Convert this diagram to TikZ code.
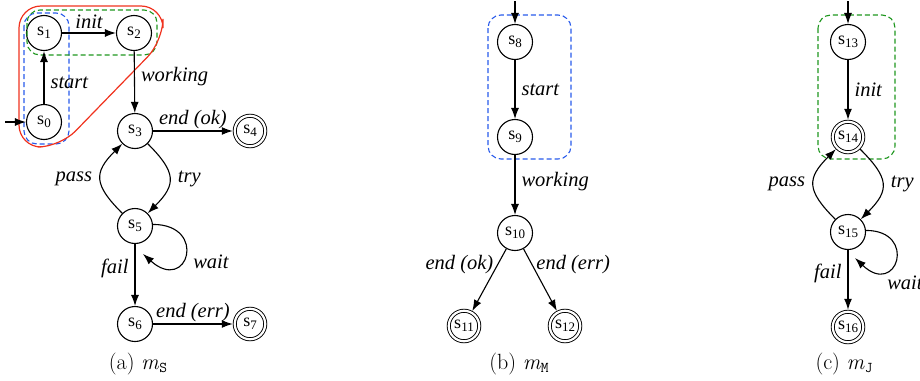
\documentclass[tikz,border=0pt]{standalone}
\usepackage{fontspec}
\newfontfamily\lab{Liberation Serif}
\usetikzlibrary{arrows.meta}
\definecolor{rboxblue}{RGB}{40,90,235}
\definecolor{rboxgreen}{RGB}{30,150,30}
\definecolor{rboxred}{RGB}{240,50,30}
\newcommand{\st}[1]{{\lab\fontsize{18}{18}\selectfont s\raisebox{-3pt}{\fontsize{13}{13}\selectfont #1}}}
\newcommand{\capm}[1]{\textit{m}\raisebox{-3pt}{\fontsize{15}{15}\selectfont\ttfamily #1}}
\begin{document}
\begin{tikzpicture}[x=1pt,y=-1pt,
  state/.style={circle, draw, line width=1.1pt, minimum size=35pt, inner sep=0pt},
  acc/.style={circle, draw, double, double distance=2.2pt, line width=0.9pt, minimum size=30.5pt, inner sep=0pt, outer sep=2pt},
  tr/.style={-{Latex[length=11pt,width=8pt]}, line width=1.1pt},
  lbl/.style={font=\lab\itshape\fontsize{20.5}{22}\selectfont, inner sep=2pt},
  captxt/.style={font=\fontsize{22}{24}\selectfont},
  dbox/.style={dashed, dash pattern=on 5pt off 3pt, line width=1.1pt, rounded corners=13pt},
  bluebox/.style={dbox, draw=rboxblue},
  greenbox/.style={dbox, draw=rboxgreen},
  redbox/.style={draw=rboxred, line width=1.2pt, rounded corners=22pt}
]
\useasboundingbox (0,0) rectangle (920,380);

% ---------------- panel (a)
\node[state] (s0) at (44,122) {\st{0}};
\node[state] (s1) at (44,33) {\st{1}};
\node[state] (s2) at (134,33) {\st{2}};
\node[state] (s3) at (135,131) {\st{3}};
\node[acc] (s4) at (250,131) {\st{4}};
\node[state] (s5) at (135,226) {\st{5}};
\node[state] (s6) at (135,324) {\st{6}};
\node[acc] (s7) at (250,324) {\st{7}};
\coordinate (i0) at (5,122);
\coordinate (w5) at ([shift={(8,28)}]s5.center);

\draw[bluebox] (24,13) rectangle (69,144);
\draw[greenbox] (27,10) rectangle (157,55);
\draw[redbox] (19,80) -- (19,6) -- (163,6) -- (163,41) -- (60,147) -- (19,147) -- cycle;

\draw[tr] (i0) -- (s0);
\draw[tr] (s0) -- node[lbl, anchor=west, pos=0.4, xshift=4pt] (la1) {start} (s1);
\draw[tr] (s1) -- node[lbl, anchor=south, yshift=2pt] (la2) {init} (s2);
\draw[tr] (s2) -- node[lbl, anchor=west, pos=0.42, xshift=4pt] (la3) {working} (s3);
\draw[tr] (s3) -- node[lbl, anchor=south] (la4) {end (ok)} (s4);
\draw[tr] (s3) to[out=-45, in=45, looseness=1.5] node[lbl, anchor=west, xshift=6pt] (la5) {try} (s5);
\draw[tr] (s5) to[out=135, in=-135, looseness=1.5] node[lbl, anchor=east, xshift=-6pt] (la6) {pass} (s3);
\draw[tr] (s5.5) .. controls +(55,0) and +(45,40) .. node[lbl, anchor=west, pos=0.62, xshift=10pt] (la7) {wait} (w5);
\draw[tr] (s5) -- node[lbl, anchor=east, pos=0.4, xshift=-4pt] (la8) {fail} (s6);
\draw[tr] (s6) -- node[lbl, anchor=south] (la9) {end (err)} (s7);

\node[captxt] (ca) at (138,364) {(a) \capm{S}};

% ---------------- panel (b)
\node[state] (s8) at (515,42) {\st{8}};
\node[state] (s9) at (515,137) {\st{9}};
\node[state] (s10) at (515,233) {\st{10}};
\node[acc] (s11) at (464,326) {\st{11}};
\node[acc] (s12) at (565,326) {\st{12}};
\coordinate (i8) at (515,1);

\draw[bluebox] (488,15) rectangle (571,159);

\draw[tr] (i8) -- (s8);
\draw[tr] (s8) -- node[lbl, anchor=west, xshift=4pt] (lb1) {start} (s9);
\draw[tr] (s9) -- node[lbl, anchor=west, xshift=4pt, pos=0.45] (lb2) {working} (s10);
\draw[tr] (s10) -- node[lbl, anchor=east, pos=0.25, xshift=-2pt] (lb3) {end (ok)} (s11);
\draw[tr] (s10) -- node[lbl, anchor=west, pos=0.25, xshift=2pt] (lb4) {end (err)} (s12);

\node[captxt] (cb) at (519,364) {(b) \capm{M}};

% ---------------- panel (c)
\node[state] (s13) at (848,42) {\st{13}};
\node[acc] (s14) at (848,137) {\st{14}};
\node[state] (s15) at (848,232) {\st{15}};
\node[acc] (s16) at (848,327) {\st{16}};
\coordinate (i13) at (848,1);
\coordinate (w15) at ([shift={(7,26)}]s15.center);

\draw[greenbox] (818,15) rectangle (895,159);

\draw[tr] (i13) -- (s13);
\draw[tr] (s13) -- node[lbl, anchor=west, xshift=4pt] (lc1) {init} (s14);
\draw[tr] (s14) to[out=-45, in=45, looseness=1.5] node[lbl, anchor=west, xshift=6pt] (lc2) {try} (s15);
\draw[tr] (s15) to[out=135, in=-135, looseness=1.5] node[lbl, anchor=east, xshift=-6pt] (lc3) {pass} (s14);
\draw[tr] (s15.5) .. controls +(52,0) and +(42,40) .. node[lbl, anchor=north west, pos=0.7, xshift=-1pt, yshift=-4pt] (lc4) {wait} (w15);
\draw[tr] (s15) -- node[lbl, anchor=east, pos=0.4, xshift=-4pt] (lc5) {fail} (s16);

\node[captxt] (cc) at (844,364) {(c) \capm{J}};
\end{tikzpicture}
\end{document}
